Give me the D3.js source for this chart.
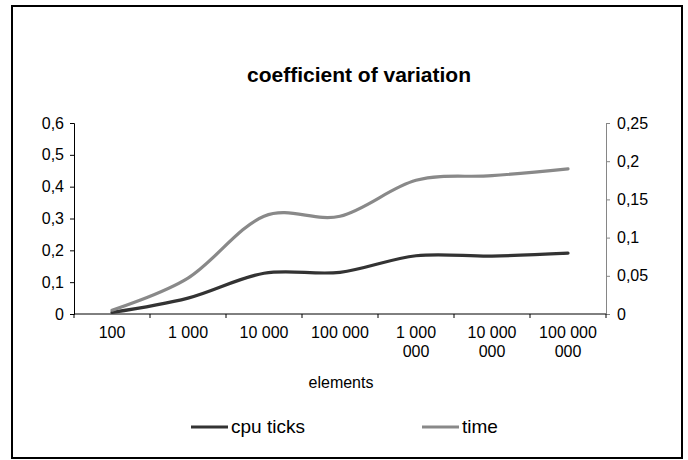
<!DOCTYPE html>
<html><head><meta charset="utf-8">
<script src="https://cdn.jsdelivr.net/npm/d3@7"></script>
<style>
html,body{margin:0;padding:0;background:#fff;}
text{font-family:"Liberation Sans",Arial,sans-serif;}
</style></head>
<body><svg id="chart" width="688" height="460"></svg>
<script>
const categories = ["100","1 000","10 000","100 000","1 000 000","10 000 000","100 000 000"];
const cpuTicks = [0.005, 0.05, 0.128, 0.131, 0.183, 0.182, 0.191];
const timeVals = [0.005, 0.047, 0.128, 0.128, 0.175, 0.181, 0.19];
const leftTicks = [0, 0.1, 0.2, 0.3, 0.4, 0.5, 0.6];
const rightTicks = [0, 0.05, 0.1, 0.15, 0.2, 0.25];
const seriesNames = ["cpu ticks", "time"];
const chartTitle = "coefficient of variation";
const xTitle = "elements";

const svg = d3.select("#chart");
const fmt = d3.formatLocale({decimal:",", thousands:" ", grouping:[3], currency:["",""]}).format("~g");

svg.append("rect").attr("x",12).attr("y",6).attr("width",670).attr("height",452)
  .attr("fill","#fff").attr("stroke","#000").attr("stroke-width",2);

const L = 74, R = 606, T = 123, B = 314;
const x = d3.scaleBand().domain(categories).range([L,R]);
const yL = d3.scaleLinear().domain([0,0.6]).range([B,T]);
const yR = d3.scaleLinear().domain([0,0.25]).range([B,T]);

// title
svg.append("text").attr("x",359).attr("y",82).attr("text-anchor","middle")
  .attr("font-size",21).attr("font-weight","bold").attr("fill","#000").text(chartTitle);

// left axis
const gL = svg.append("g").attr("transform",`translate(${L},0)`)
  .call(d3.axisLeft(yL).tickValues(leftTicks).tickFormat(fmt).tickSize(4).tickPadding(6));
gL.select(".domain").attr("stroke","#000");
gL.selectAll(".tick line").attr("stroke","#000");
gL.selectAll(".tick text").attr("font-size",16).attr("fill","#000").attr("font-family","Liberation Sans, Arial, sans-serif");

// right axis
const gR = svg.append("g").attr("transform",`translate(${R},0)`)
  .call(d3.axisRight(yR).tickValues(rightTicks).tickFormat(fmt).tickSize(4).tickPadding(7));
gR.select(".domain").attr("stroke","#868686");
gR.selectAll(".tick line").attr("stroke","#868686");
gR.selectAll(".tick text").attr("font-size",16).attr("fill","#000").attr("font-family","Liberation Sans, Arial, sans-serif");

// x axis
const gX = svg.append("g").attr("transform",`translate(0,${B})`)
  .call(d3.axisBottom(x).tickSize(0).tickPadding(0));
gX.select(".domain").remove();
svg.append("line").attr("x1",L).attr("x2",R).attr("y1",B).attr("y2",B).attr("stroke","#000");
const edges = categories.map(c => x(c)).concat([x(categories[categories.length-1]) + x.bandwidth()]);
svg.append("g").selectAll("line").data(edges).join("line")
  .attr("x1",d=>d).attr("x2",d=>d).attr("y1",B).attr("y2",B+4).attr("stroke","#000");
gX.selectAll(".tick text").each(function(d){
  const t = d3.select(this);
  t.text(null).attr("font-size",16).attr("fill","#000").attr("font-family","Liberation Sans, Arial, sans-serif").attr("dy",null).attr("y",0);
  let lines = [d];
  if (d.length > 7) { const k = d.lastIndexOf(" "); lines = [d.slice(0,k), d.slice(k+1)]; }
  lines.forEach((s,i)=> t.append("tspan").attr("x",0).attr("y",24 + i*19).text(s));
});

svg.append("text").attr("x",341).attr("y",388).attr("text-anchor","middle")
  .attr("font-size",16).attr("fill","#000").text(xTitle);

// lines
const line = (ys) => d3.line().x((d,i)=>x(categories[i]) + x.bandwidth()/2).y(d=>ys(d)).curve(d3.curveCardinal.tension(0));
const colors = ["#333333","#898989"];
svg.append("path").datum(cpuTicks).attr("d",line(yL)).attr("fill","none").attr("stroke",colors[0]).attr("stroke-width",3.2).attr("stroke-linecap","round");
svg.append("path").datum(timeVals).attr("d",line(yR)).attr("fill","none").attr("stroke",colors[1]).attr("stroke-width",3.2).attr("stroke-linecap","round");

// legend
const legX = [191, 422];
const leg = svg.append("g").selectAll("g").data(seriesNames).join("g")
  .attr("transform",(d,i)=>`translate(${legX[i]},427)`);
leg.append("line").attr("x1",0).attr("x2",37).attr("y1",0).attr("y2",0)
  .attr("stroke",(d,i)=>colors[i]).attr("stroke-width",3.2);
leg.append("text").attr("x",40).attr("y",6).attr("font-size",19).attr("fill","#000").text(d=>d);
</script></body></html>
